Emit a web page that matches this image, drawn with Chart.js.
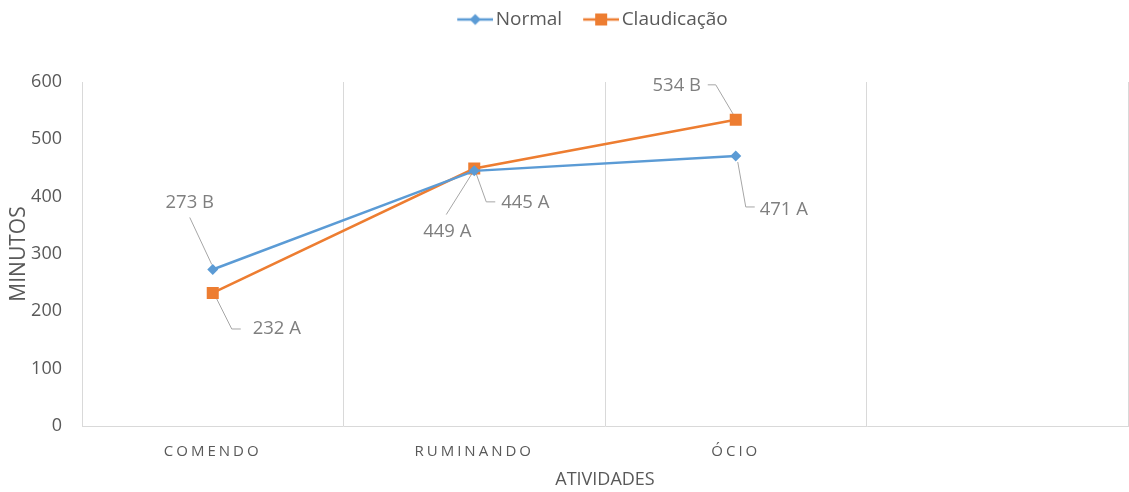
<!DOCTYPE html>
<html>
  <head>
    <title>Atividades</title>
    <script src="https://cdn.jsdelivr.net/npm/chart.js"></script>
    <style>
      html, body { margin: 0; padding: 0; background: #fff; }
      .chart-container { width: 1129px; height: 492px; }
    </style>
  </head>
  <body>
    <div class="chart-container">
      <canvas id="myChart"></canvas>
    </div>

    <script>
      // dados
      const atividades = ["COMENDO", "RUMINANDO", "ÓCIO", ""];
      const normal = [273, 445, 471];
      const claudicacao = [232, 449, 534];
      const letrasNormal = ["B", "A", "A"];
      const letrasClaud = ["A", "A", "B"];

      const azul = "#5b9bd5";
      const laranja = "#ed7d31";
      const cinzaTexto = "#595959";
      const fonte = "'Open Sans', sans-serif";

      // posicao dos rotulos em relacao ao ponto (px)
      const posNormal = [
        { dx: -23, dy: -67, linha: [[-23, -52], [-1, -5]] },
        { dx: 51, dy: 32, linha: [[21, 31], [12, 31], [2, 3]] },
        { dx: 48, dy: 54, linha: [[19, 51], [10, 51], [2, 6]] },
      ];
      const posClaud = [
        { dx: 64, dy: 36, linha: [[2, 2], [19, 36], [28, 36]] },
        { dx: -27, dy: 63, linha: [[-28, 46], [-1, 3]] },
        { dx: -59, dy: -34, linha: [[-28, -35], [-20, -35], [-1, -3]] },
      ];

      function marcador(cor, forma) {
        const c = document.createElement("canvas");
        c.width = 54;
        c.height = 16;
        const g = c.getContext("2d");
        g.strokeStyle = cor;
        g.lineWidth = 2.5;
        g.beginPath();
        g.moveTo(18, 8);
        g.lineTo(54, 8);
        g.stroke();
        g.fillStyle = cor;
        if (forma === "losango") {
          g.beginPath();
          g.moveTo(36, 2.5);
          g.lineTo(41.5, 8);
          g.lineTo(36, 13.5);
          g.lineTo(30.5, 8);
          g.closePath();
          g.fill();
        } else {
          g.fillRect(30, 2, 12, 12);
        }
        return c;
      }
      const marcadores = [marcador(azul, "losango"), marcador(laranja, "quadrado")];

      const rotulos = {
        id: "rotulos",
        beforeDatasetsDraw(chart) {
          const ctx = chart.ctx;
          chart.data.datasets.forEach((ds, d) => {
            chart.getDatasetMeta(d).data.forEach((pt, i) => {
              const pos = ds.rotulos[i];
              ctx.save();
              ctx.strokeStyle = "#a6a6a6";
              ctx.lineWidth = 1;
              ctx.beginPath();
              pos.linha.forEach((p, k) => {
                if (k === 0) ctx.moveTo(pt.x + p[0], pt.y + p[1]);
                else ctx.lineTo(pt.x + p[0], pt.y + p[1]);
              });
              ctx.stroke();
              ctx.restore();
            });
          });
        },
        afterDatasetsDraw(chart) {
          const ctx = chart.ctx;
          chart.data.datasets.forEach((ds, d) => {
            chart.getDatasetMeta(d).data.forEach((pt, i) => {
              const pos = ds.rotulos[i];
              ctx.save();
              ctx.fillStyle = "#7f7f7f";
              ctx.font = "18.5px " + fonte;
              ctx.textAlign = "center";
              ctx.textBaseline = "middle";
              ctx.fillText(ds.data[i] + " " + ds.letras[i], pt.x + pos.dx, pt.y + pos.dy);
              ctx.restore();
            });
          });
        },
      };

      // espaco abaixo da legenda e espacamento das letras no eixo x
      const ajustes = {
        id: "ajustes",
        beforeLayout(chart) {
          const lg = chart.legend;
          if (lg && !lg._ajustado) {
            const fit = lg.fit;
            lg.fit = function () {
              fit.call(this);
              this.height += 43;
            };
            lg._ajustado = true;
          }
        },
        afterLayout(chart) {
          const lg = chart.legend;
          if (lg) {
            lg.left += 20;
            lg.right += 20;
          }
        },
        beforeDraw(chart) {
          const x = chart.scales.x;
          if (x && !x._espacado) {
            const dl = x.drawLabels;
            x.drawLabels = function (area) {
              this.ctx.save();
              this.ctx.letterSpacing = "3px";
              dl.call(this, area);
              this.ctx.restore();
            };
            x._espacado = true;
          }
        },
      };

      new Chart(document.getElementById("myChart"), {
        type: "line",
        data: {
          labels: atividades,
          datasets: [
            {
              label: "Normal",
              data: normal,
              letras: letrasNormal,
              rotulos: posNormal,
              borderColor: azul,
              backgroundColor: azul,
              borderWidth: 2.5,
              pointStyle: "rectRot",
              pointRadius: 5.5,
              pointBorderWidth: 0,
              tension: 0,
            },
            {
              label: "Claudicação",
              data: claudicacao,
              letras: letrasClaud,
              rotulos: posClaud,
              borderColor: laranja,
              backgroundColor: laranja,
              borderWidth: 2.5,
              pointStyle: "rect",
              pointRadius: 8.5,
              pointBorderWidth: 0,
              tension: 0,
            },
          ],
        },
        options: {
          responsive: true,
          maintainAspectRatio: false,
          animation: false,
          layout: { autoPadding: false, padding: { left: 6, right: 1, top: 0, bottom: 0 } },
          plugins: {
            tooltip: { enabled: false },
            legend: {
              position: "top",
              labels: {
                usePointStyle: true,
                pointStyleWidth: 40,
                color: cinzaTexto,
                font: { family: fonte, size: 19 },
                padding: 10,
                generateLabels(chart) {
                  return Chart.defaults.plugins.legend.labels
                    .generateLabels(chart)
                    .map((l, i) => Object.assign(l, { pointStyle: marcadores[i] }));
                },
              },
            },
          },
          scales: {
            x: {
              offset: true,
              grid: { offset: true, color: "#d9d9d9", drawTicks: false },
              border: { color: "#d9d9d9" },
              ticks: { color: cinzaTexto, font: { family: fonte, size: 15 }, padding: 17 },
              title: {
                display: true,
                text: "ATIVIDADES",
                color: cinzaTexto,
                font: { family: fonte, size: 18 },
                padding: { top: 4, bottom: 1 },
              },
              afterFit(scale) {
                scale.paddingLeft = 0;
                scale.paddingRight = 0;
                scale.height = 66;
              },
            },
            y: {
              min: 0,
              max: 600,
              ticks: { stepSize: 100, color: cinzaTexto, font: { family: fonte, size: 18 }, padding: 20 },
              grid: { display: false, drawTicks: false },
              border: { display: false },
              title: {
                display: true,
                text: "MINUTOS",
                color: cinzaTexto,
                font: { family: fonte, size: 21 },
                padding: { top: 0, bottom: 2 },
              },
              afterFit(scale) {
                scale.width = 76;
              },
            },
          },
        },
        plugins: [rotulos, ajustes],
      });
    </script>
  </body>
</html>
